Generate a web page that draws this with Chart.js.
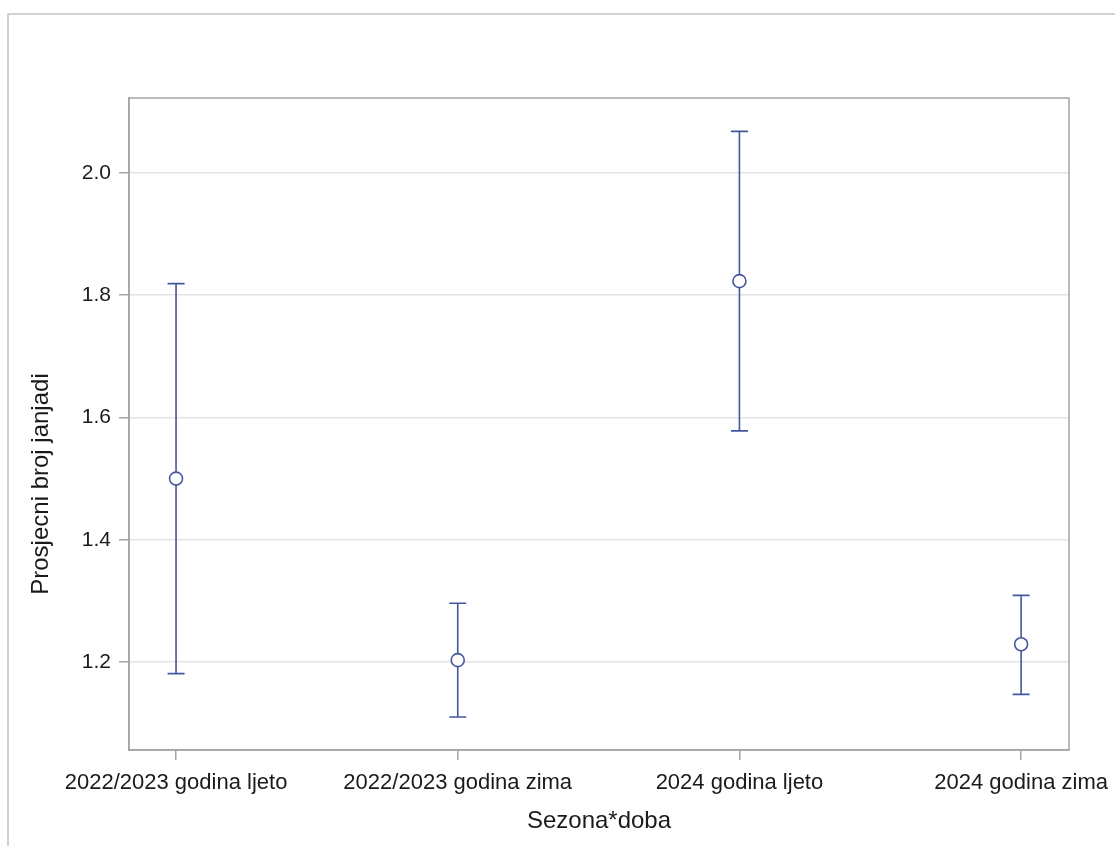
<!DOCTYPE html>
<html>
<head>
<meta charset="utf-8">
<script src="https://cdn.jsdelivr.net/npm/chart.js@4"></script>
<style>
  html, body { margin: 0; padding: 0; background: #fff; }
  #wrap { width: 1115px; height: 846px; }
</style>
</head>
<body>
<div id="wrap"><canvas id="myChart-1" width="1115" height="846"></canvas></div>
<script>
var categories = ['2022/2023 godina ljeto', '2022/2023 godina zima', '2024 godina ljeto', '2024 godina zima'];
var means = [1.500, 1.203, 1.823, 1.229];
var lowerCI = [1.181, 1.110, 1.578, 1.147];
var upperCI = [1.819, 1.296, 2.068, 1.309];
var yTicks = [1.2, 1.4, 1.6, 1.8, 2.0];
var xTitle = 'Sezona*doba';
var yTitle = 'Prosjecni broj janjadi';

var markColor = '#4556a0';
var frameColor = '#a4a4a4';
var fontFamily = '"Liberation Sans", Arial, sans-serif';

// okvir oko cijele slike (gore i lijevo)
var outerBorder = {
    id: 'outerBorder',
    beforeDraw: function (chart) {
        var ctx = chart.ctx;
        ctx.save();
        ctx.strokeStyle = '#d2d2d2';
        ctx.lineWidth = 2;
        ctx.beginPath();
        ctx.moveTo(8, chart.height);
        ctx.lineTo(8, 14);
        ctx.lineTo(chart.width, 14);
        ctx.stroke();
        ctx.restore();
    }
};

// okvir grafa + intervali pouzdanosti
var errorBars = {
    id: 'errorBars',
    beforeDatasetsDraw: function (chart) {
        var ctx = chart.ctx;
        var a = chart.chartArea;
        var xs = chart.scales.x, ys = chart.scales.y;
        ctx.save();
        ctx.strokeStyle = frameColor;
        ctx.lineWidth = 1.5;
        ctx.strokeRect(a.left, a.top, a.right - a.left, a.bottom - a.top);

        ctx.strokeStyle = markColor;
        ctx.lineWidth = 1.6;
        for (var i = 0; i < means.length; i++) {
            var px = xs.getPixelForValue(i);
            var pLo = ys.getPixelForValue(lowerCI[i]);
            var pHi = ys.getPixelForValue(upperCI[i]);
            ctx.beginPath();
            ctx.moveTo(px, pHi);
            ctx.lineTo(px, pLo);
            ctx.moveTo(px - 8.5, pHi);
            ctx.lineTo(px + 8.5, pHi);
            ctx.moveTo(px - 8.5, pLo);
            ctx.lineTo(px + 8.5, pLo);
            ctx.stroke();
        }
        ctx.restore();
    }
};

// naslovi osi
var axisTitles = {
    id: 'axisTitles',
    afterDraw: function (chart) {
        var ctx = chart.ctx;
        var a = chart.chartArea;
        ctx.save();
        ctx.fillStyle = '#1a1a1a';
        ctx.font = '24px ' + fontFamily;
        ctx.textAlign = 'center';
        ctx.textBaseline = 'middle';
        ctx.fillText(xTitle, (a.left + a.right) / 2, 821);
        ctx.translate(41, 484);
        ctx.rotate(-Math.PI / 2);
        ctx.fillText(yTitle, 0, 0);
        ctx.restore();
    }
};

var myChart_1 = document.getElementById('myChart-1').getContext('2d');
var chart = new Chart(myChart_1, {
    type: 'scatter',
    data: {
        datasets: [{
            data: means.map(function (m, i) { return { x: i, y: m }; }),
            pointRadius: 6.5,
            pointHoverRadius: 6.5,
            pointBorderWidth: 1.6,
            pointBorderColor: markColor,
            pointBackgroundColor: '#ffffff',
            showLine: false
        }]
    },
    options: {
        responsive: false,
        animation: false,
        layout: { padding: { top: 98, right: 46, left: 0, bottom: 0 } },
        plugins: {
            legend: { display: false },
            tooltip: { enabled: false }
        },
        scales: {
            x: {
                type: 'linear',
                min: -0.167,
                max: 3.17,
                afterBuildTicks: function (scale) {
                    scale.ticks = categories.map(function (c, i) { return { value: i }; });
                },
                afterFit: function (scale) {
                    scale.height = 96;
                    scale.paddingLeft = 0;
                    scale.paddingRight = 0;
                },
                grid: { drawOnChartArea: false, tickColor: frameColor, tickLength: 10, lineWidth: 1.5 },
                border: { color: frameColor, width: 1.5 },
                ticks: {
                    maxRotation: 0,
                    autoSkip: false,
                    padding: 10,
                    color: '#1a1a1a',
                    font: { family: fontFamily, size: 22 },
                    callback: function (value) { return categories[value]; }
                }
            },
            y: {
                min: 1.056,
                max: 2.1226,
                afterBuildTicks: function (scale) {
                    scale.ticks = yTicks.map(function (v) { return { value: v }; });
                },
                afterFit: function (scale) { scale.width = 129; },
                grid: { color: '#e3e3e3', tickColor: frameColor, tickLength: 10, lineWidth: 1.5 },
                border: { color: frameColor, width: 1.5 },
                ticks: {
                    padding: 8,
                    color: '#1a1a1a',
                    font: { family: fontFamily, size: 21 },
                    callback: function (value) { return value.toFixed(1); }
                }
            }
        }
    },
    plugins: [outerBorder, errorBars, axisTitles]
});
</script>
</body>
</html>
